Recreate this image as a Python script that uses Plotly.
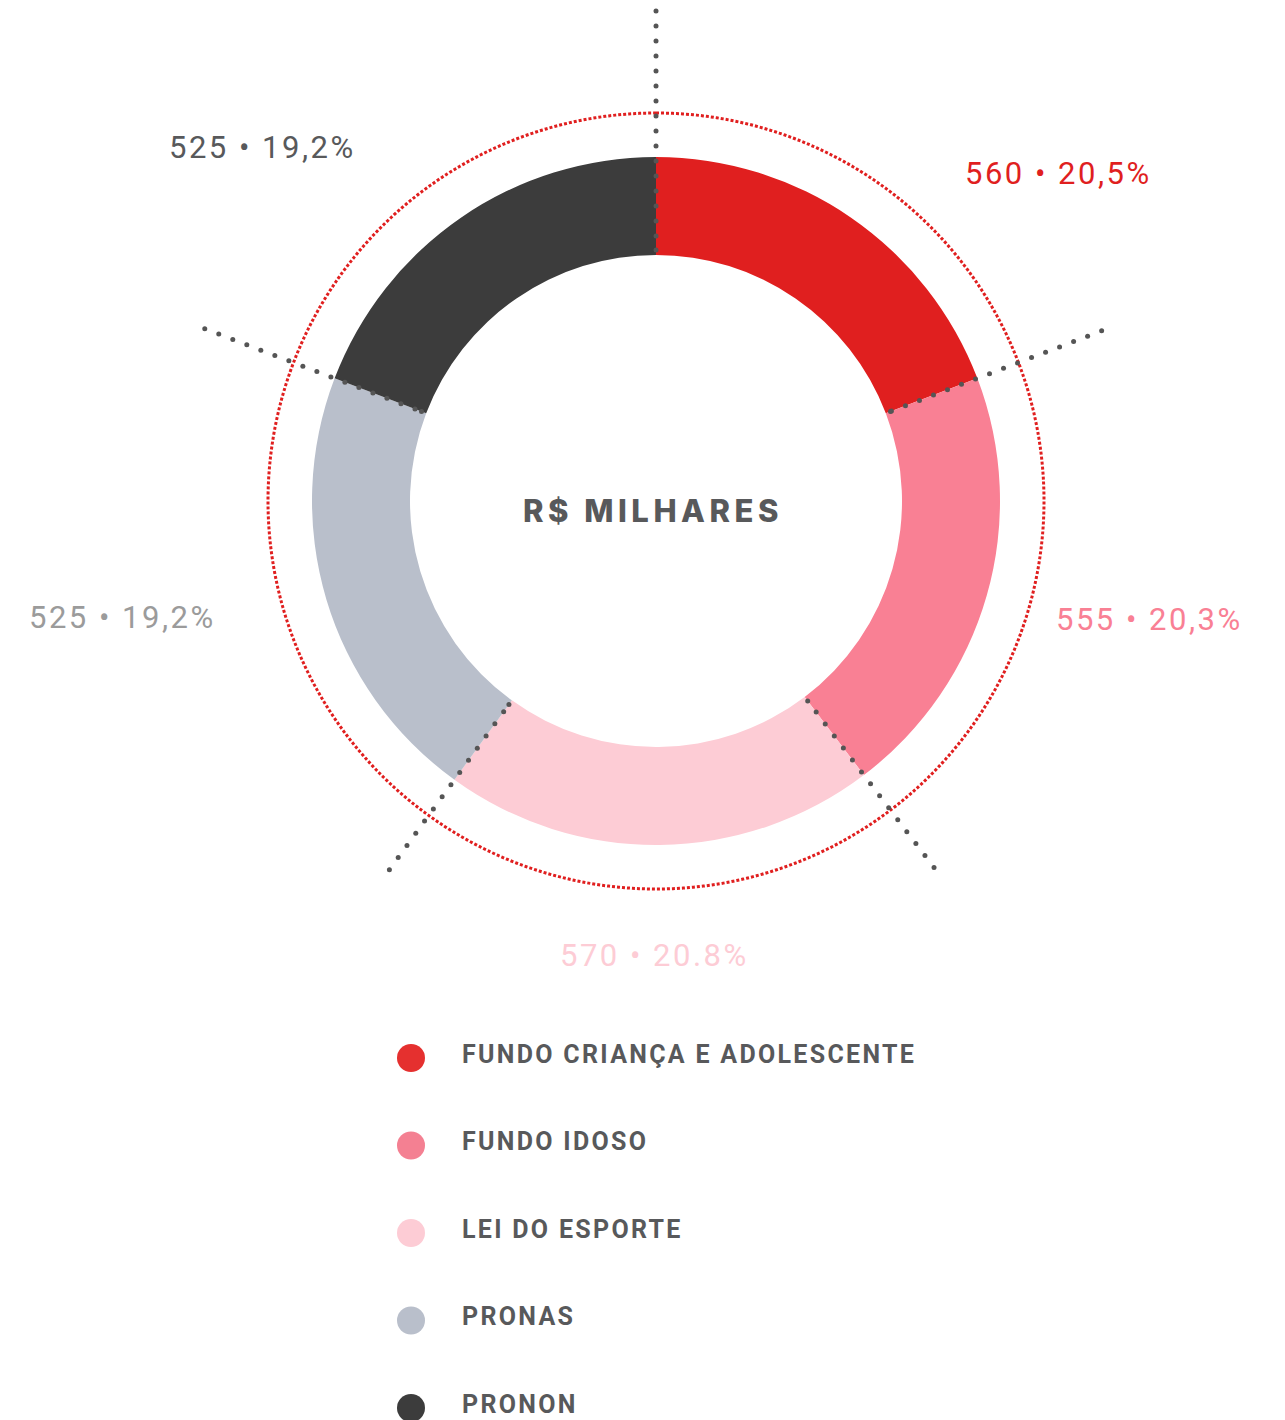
import numpy as np
import plotly.graph_objects as go

# ---------------- data ----------------
categories = ["FUNDO CRIANÇA E ADOLESCENTE", "FUNDO IDOSO", "LEI DO ESPORTE", "PRONAS", "PRONON"]
values = [560, 555, 570, 525, 525]                       # labelled values (R$ milhares)
pct_labels = ["20,5%", "20,3%", "20.8%", "19,2%", "19,2%"]
# arc sizes as drawn in the reference (its arcs are the values shifted by one slot)
arc_values = [525, 560, 555, 570, 525]

# ---------------- styles ----------------
W, H = 1285, 1420
CX, CY = 656, 501            # donut centre (px)
R_OUT, R_IN = 344, 246       # donut radii (px)
R_RING = 388                 # red dotted ring (px)
R_MAX = 492                  # radial range of polar subplot (px)
slice_colors = ["#E01F1F", "#F98094", "#FDCCD5", "#B9BFCB", "#3C3C3C"]
legend_colors = ["#E5302F", "#F48092", "#FDCCD5", "#B9BFCB", "#3C3C3C"]
label_colors = ["#E01F1F", "#F98094", "#FDCCD5", "#9B9B9B", "#58595B"]
label_pos = [(1058, 173), (1149, 619), (654, 955), (122, 617), (262, 147)]
guide_end = [490, 477, 460, 455, 483]   # outer end radius of each dotted guide
legend_x_marker, legend_x_text = 411, 460
legend_y0, legend_dy = 1058, 87.5
TXT = "#58595B"

total = float(sum(arc_values))
frac = np.array(arc_values) / total
widths = frac * 360.0
starts = np.concatenate([[0.0], np.cumsum(widths)[:-1]])
centers = starts + widths / 2

fig = go.Figure()

# donut ring
fig.add_trace(go.Barpolar(
    r=[R_OUT - R_IN] * len(arc_values), base=[R_IN] * len(arc_values),
    theta=centers, width=widths,
    marker=dict(color=slice_colors, line=dict(width=0)),
    hoverinfo="skip", showlegend=False, subplot="polar"))

# red dotted ring
th = np.linspace(0, 360, 721)
fig.add_trace(go.Scatterpolar(
    r=[R_RING] * len(th), theta=th, mode="lines",
    line=dict(color="#E01F1F", width=3, dash="3px,2px"),
    hoverinfo="skip", showlegend=False, subplot="polar"))

# dotted guide lines at slice boundaries
for b, rend in zip(starts, guide_end):
    rr = list(np.arange(rend, 250, -15.0)) + [251.0]
    fig.add_trace(go.Scatterpolar(
        r=rr, theta=[b] * len(rr), mode="markers",
        marker=dict(size=5, color="#555555"),
        hoverinfo="skip", showlegend=False, subplot="polar"))

# legend markers
leg_y = [legend_y0 + i * legend_dy for i in range(len(categories))]
fig.add_trace(go.Scatter(
    x=[legend_x_marker] * len(categories), y=leg_y, mode="markers",
    marker=dict(size=28, color=legend_colors, line=dict(width=0)),
    hoverinfo="skip", showlegend=False, xaxis="x", yaxis="y"))

def spaced(txt, px):
    return f'<span style="letter-spacing:{px}px">{txt}</span>'

annotations = []
for name, y in zip(categories, leg_y):
    annotations.append(dict(x=legend_x_text, y=y - 4, xref="x", yref="y",
                            text=spaced(name, 2.3),
                            xanchor="left", yanchor="middle", showarrow=False,
                            font=dict(family="Roboto", size=25, color=TXT, weight="bold")))
for v, p, c, (px, py) in zip(values, pct_labels, label_colors, label_pos):
    annotations.append(dict(x=px, y=py, xref="x", yref="y",
                            text=spaced(f"{v} • {p}", 2.5),
                            xanchor="center", yanchor="middle", showarrow=False,
                            font=dict(family="Roboto", size=31, color=c)))
annotations.append(dict(x=653, y=510, xref="x", yref="y", text=spaced("R$ MILHARES", 4.5),
                        xanchor="center", yanchor="middle", showarrow=False,
                        font=dict(family="Inter", size=31, color=TXT, weight=800)))

fig.update_layout(
    width=W, height=H, margin=dict(l=0, r=0, t=0, b=0),
    paper_bgcolor="white", plot_bgcolor="rgba(0,0,0,0)",
    xaxis=dict(range=[0, W], visible=False, fixedrange=True),
    yaxis=dict(range=[H, 0], visible=False, fixedrange=True),
    polar=dict(
        domain=dict(x=[(CX - R_MAX) / W, (CX + R_MAX) / W],
                    y=[(H - CY - R_MAX) / H, (H - CY + R_MAX) / H]),
        bgcolor="rgba(0,0,0,0)",
        radialaxis=dict(range=[0, R_MAX], visible=False, showgrid=False),
        angularaxis=dict(rotation=90, direction="clockwise", visible=False,
                         showgrid=False, showline=False),
    ),
    annotations=annotations,
    showlegend=False,
)

fig.write_html("out.html", config={"displayModeBar": False},
               post_script="document.body.style.margin='0';")
